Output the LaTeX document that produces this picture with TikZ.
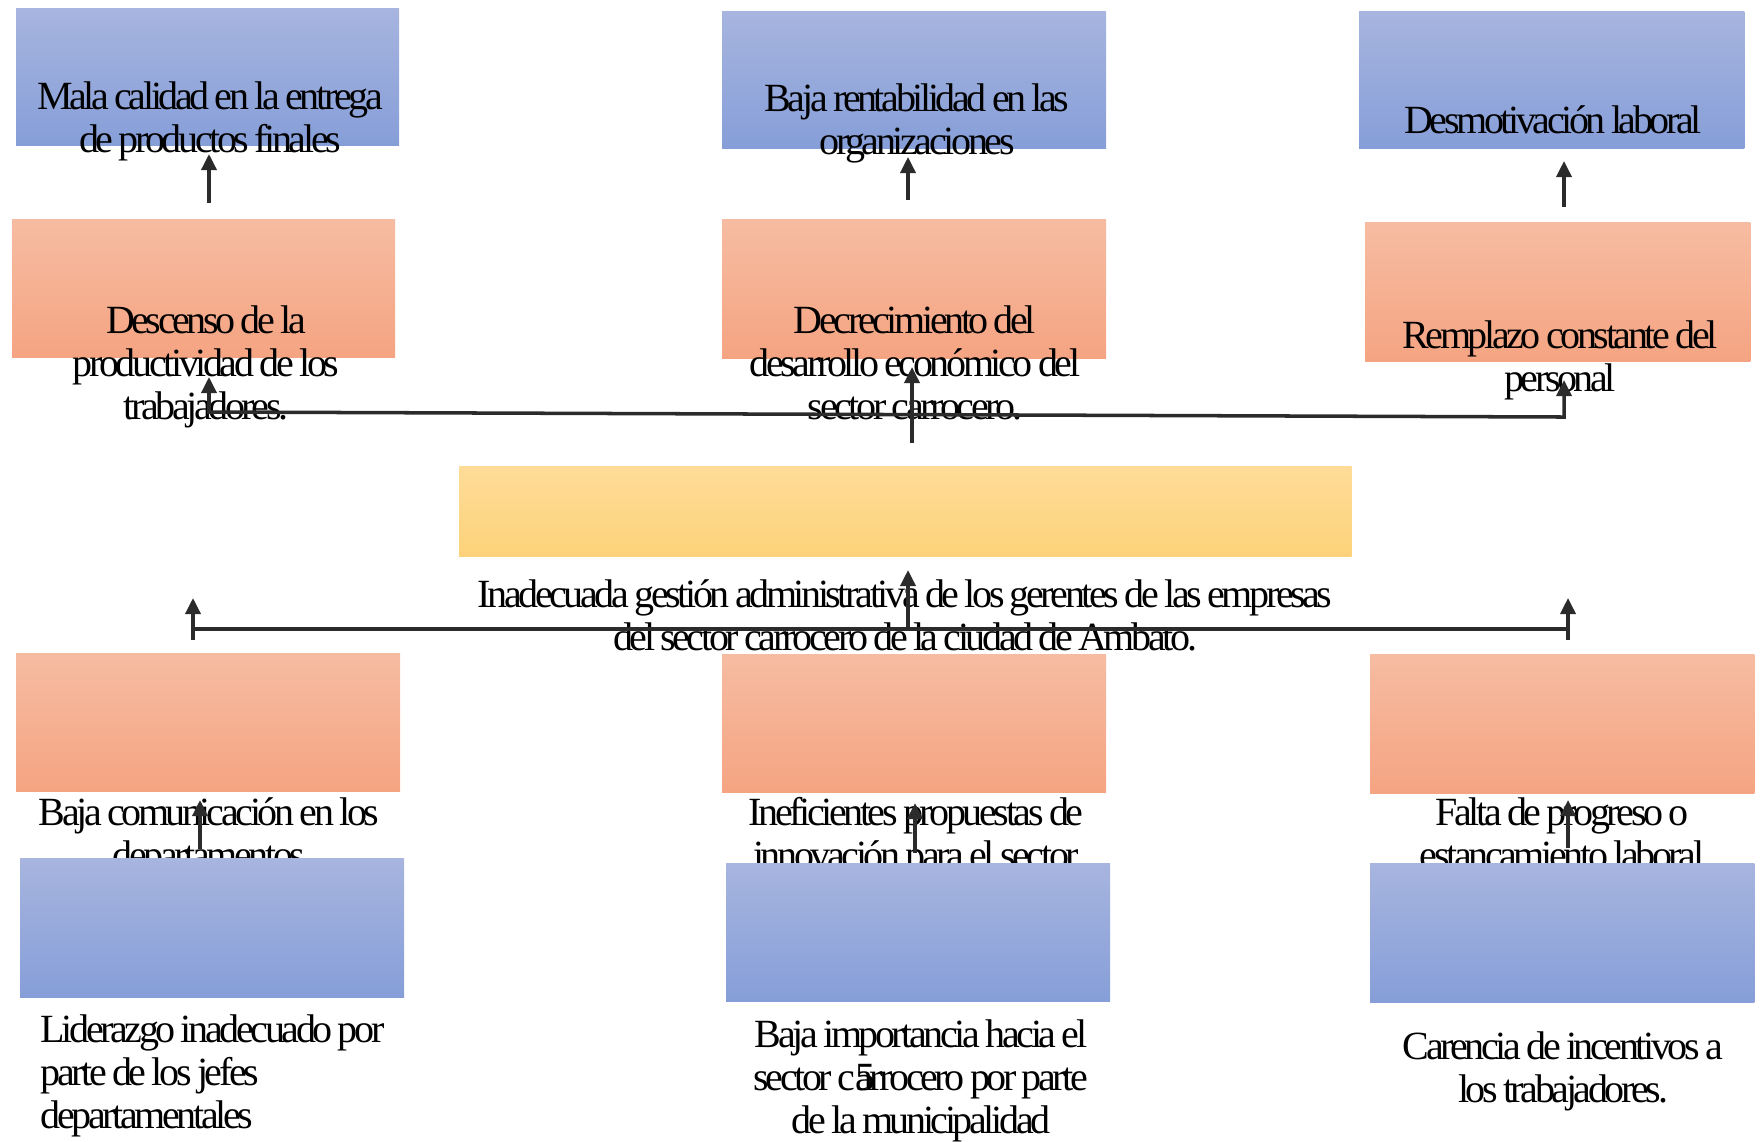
\documentclass[tikz,border=0pt]{standalone}
\usepackage{fontspec}
\setmainfont{Liberation Serif}[LetterSpace=-8.5, WordSpace=0.8]
\usetikzlibrary{arrows.meta}
\definecolor{bluetop}{HTML}{A7B5DF}
\definecolor{bluebot}{HTML}{869ED8}
\definecolor{orgtop}{HTML}{F6BCA2}
\definecolor{orgbot}{HTML}{F5A482}
\definecolor{yeltop}{HTML}{FEDC98}
\definecolor{yelbot}{HTML}{FDD27A}
\definecolor{arrgray}{HTML}{2B2B2B}
\tikzset{
  box/.style={draw=none, inner sep=0pt, outer sep=0pt, anchor=north west},
  bluebox/.style={box, top color=bluetop, bottom color=bluebot},
  orgbox/.style={box, top color=orgtop, bottom color=orgbot},
  yelbox/.style={box, top color=yeltop, bottom color=yelbot},
  txt/.style={font=\fontsize{11.38pt}{12.23pt}\selectfont, align=center, inner sep=0pt, anchor=base},
  ln/.style={line width=1pt, draw=arrgray},
  arr/.style={ln, -{Triangle[length=0.16cm,width=0.15cm]}},
}
\begin{document}
\begin{tikzpicture}[x=0.01cm,y=-0.01cm]
\useasboundingbox (0,0) rectangle (1764,1141);
% top blue boxes
\node[bluebox, minimum width=3.83cm, minimum height=1.37cm] (e1) at (16,8) {};
\node[bluebox, minimum width=3.84cm, minimum height=1.37cm] (e2) at (722,11) {};
\node[bluebox, minimum width=3.85cm, minimum height=1.37cm] (e3) at (1359,11) {};
% top orange boxes
\node[orgbox, minimum width=3.83cm, minimum height=1.38cm] (c1) at (12,219) {};
\node[orgbox, minimum width=3.84cm, minimum height=1.39cm] (c2) at (722,219) {};
\node[orgbox, minimum width=3.85cm, minimum height=1.39cm] (c3) at (1365,222) {};
% yellow box
\node[yelbox, minimum width=8.92cm, minimum height=0.90cm] (p) at (459,466) {};
% texts of the top rows (coordinates = baseline of last line)
\node[txt] (te1) at (210,152) {Mala calidad en la entrega\\de productos finales};
\node[txt] (te2) at (917,154) {Baja rentabilidad en las\\organizaciones};
\node[txt] (te3) at (1553,133) {Desmotivación laboral};
\node[txt] (tc1) at (206,419) {Descenso de la\\productividad de los\\trabajadores.};
\node[txt] (tc2) at (915,419) {Decrecimiento del\\desarrollo económico del\\sector carrocero.};
\node[txt] (tc3) at (1560,391) {Remplazo constante del\\personal};
\node[txt] (tp) at (905,650) {Inadecuada gestión administrativa de los gerentes de las empresas\\del sector carrocero de la ciudad de Ambato.};
% bottom orange boxes
\node[orgbox, minimum width=3.84cm, minimum height=1.38cm] (k1) at (16,653) {};
\node[orgbox, minimum width=3.84cm, minimum height=1.38cm] (k2) at (722,654) {};
\node[orgbox, minimum width=3.84cm, minimum height=1.39cm] (k3) at (1370,654) {};
\node[txt] (tk1) at (209,868) {Baja comunicación en los\\departamentos};
\node[txt] (tk2) at (916,868) {Ineficientes propuestas de\\innovación para el sector};
\node[txt] (tk3) at (1562,868) {Falta de progreso o\\estancamiento laboral};
% bottom blue boxes
\node[bluebox, minimum width=3.84cm, minimum height=1.39cm] (r1) at (20,858) {};
\node[bluebox, minimum width=3.84cm, minimum height=1.38cm] (r2) at (726,863) {};
\node[bluebox, minimum width=3.84cm, minimum height=1.39cm] (r3) at (1370,863) {};
\node[txt, align=left, anchor=base west] (tr1) at (40,1128) {Liderazgo inadecuado por\\parte de los jefes\\departamentales};
\node[txt] (tr2) at (921,1133) {Baja importancia hacia el\\sector c\rlap{5}arrocero por parte\\de la municipalidad};
\node[txt] (tr3) at (1563,1102) {Carencia de incentivos a\\los trabajadores.};
% connector coordinates
\coordinate (a1s) at (209,203); \coordinate (a1e) at (209,154);
\coordinate (a2s) at (908,200); \coordinate (a2e) at (908,157);
\coordinate (a3s) at (1564,207); \coordinate (a3e) at (1564,161);
\coordinate (tl) at (209,412); \coordinate (tlt) at (209,377);
\coordinate (tr) at (1564,417); \coordinate (trt) at (1564,380);
\coordinate (ms) at (912,443); \coordinate (me) at (912,367);
\coordinate (bls) at (193,640); \coordinate (ble) at (193,598);
\coordinate (brs) at (1568,640); \coordinate (bre) at (1568,598);
\coordinate (bl) at (193,629); \coordinate (br) at (1568,629);
\coordinate (bms) at (908,629); \coordinate (bme) at (908,570);
\coordinate (s1s) at (200,849); \coordinate (s1e) at (200,800);
\coordinate (s2s) at (915,853); \coordinate (s2e) at (915,803);
\coordinate (s3s) at (1568,848); \coordinate (s3e) at (1568,800);
% connectors
\draw[arr] (a1s) -- (a1e);
\draw[arr] (a2s) -- (a2e);
\draw[arr] (a3s) -- (a3e);
\draw[ln, {Triangle[length=0.16cm,width=0.15cm]}-{Triangle[length=0.16cm,width=0.15cm]}] (tlt) -- (tl) -- (tr) -- (trt);
\draw[arr] (ms) -- (me);
\draw[ln] (bl) -- (br);
\draw[arr] (bls) -- (ble);
\draw[arr] (brs) -- (bre);
\draw[arr] (bms) -- (bme);
\draw[arr] (s1s) -- (s1e);
\draw[arr] (s2s) -- (s2e);
\draw[arr] (s3s) -- (s3e);
\end{tikzpicture}
\end{document}
